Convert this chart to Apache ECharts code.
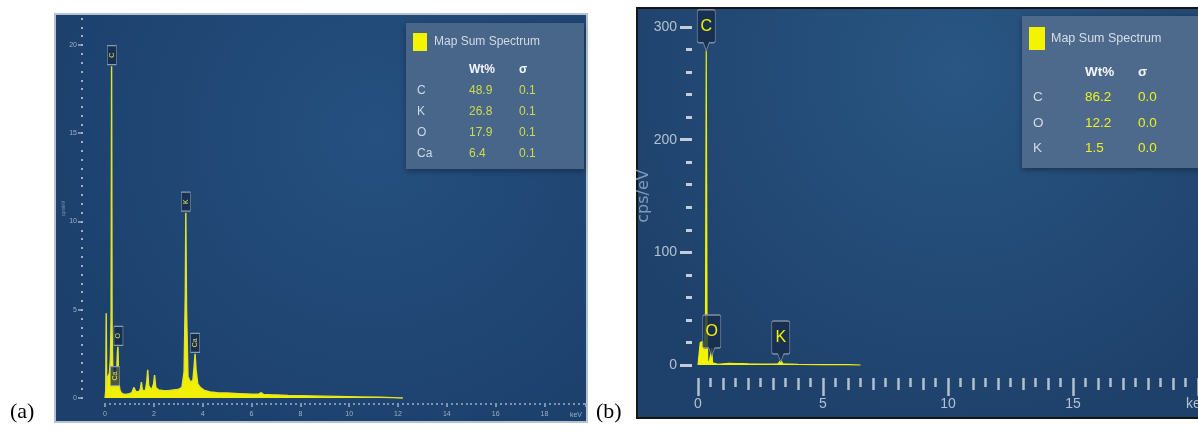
<!DOCTYPE html>
<html>
<head>
<meta charset="utf-8">
<script src="https://cdn.jsdelivr.net/npm/echarts@6/dist/echarts.min.js"></script>
<style>
  html, body { margin: 0; padding: 0; background: #fff; }
  #chart { width: 1198px; height: 433px; }
</style>
</head>
<body>
<div id="chart"></div>
<script>
// ---- data (keV, cps/eV) ----
// panel (a)
var spectrumA = [
  [0, 0], [0.03, 0.4], [0.05, 4.8], [0.07, 0.6], [0.12, 1.2], [0.18, 1.4], [0.22, 2.2],
  [0.25, 4.5], [0.27, 18.8], [0.29, 4.0], [0.32, 1.6], [0.36, 1.4], [0.4, 1.0], [0.43, 0.9],
  [0.47, 1.2], [0.51, 2.6], [0.53, 2.9], [0.56, 0.9], [0.62, 0.4], [0.7, 0.25], [0.85, 0.2],
  [1.0, 0.25], [1.1, 0.3], [1.18, 0.6], [1.22, 0.7], [1.27, 0.35], [1.38, 0.35], [1.45, 0.5],
  [1.49, 0.9], [1.53, 0.45], [1.65, 0.4], [1.71, 0.9], [1.75, 1.6], [1.79, 0.7], [1.9, 0.45],
  [1.99, 0.8], [2.03, 1.3], [2.08, 0.6], [2.2, 0.45], [2.4, 0.42], [2.6, 0.42], [2.8, 0.45],
  [3.0, 0.48], [3.15, 0.6], [3.24, 1.5], [3.29, 6.0], [3.31, 10.5], [3.34, 5.0], [3.4, 1.2],
  [3.5, 0.9], [3.6, 1.0], [3.65, 1.8], [3.69, 2.5], [3.73, 1.6], [3.8, 0.8], [3.9, 0.6],
  [4.05, 0.45], [4.3, 0.35], [4.6, 0.3], [5.0, 0.28], [5.5, 0.25], [6.0, 0.22], [6.3, 0.22],
  [6.4, 0.3], [6.5, 0.2], [6.8, 0.18], [7.5, 0.15], [8.5, 0.12], [9.5, 0.09], [10.5, 0.06],
  [11.3, 0.04], [11.8, 0.02], [12.2, 0]
];
var peakNamesA = ['C', 'O', 'Ca', 'K', 'Ca'];
var peakKeVA = [0.28, 0.55, 0.41, 3.31, 3.69];
var peakTopA = [18.8, 2.9, 0.62, 10.5, 2.5];
var elemA = ['C', 'K', 'O', 'Ca'];
var wtA = ['48.9', '26.8', '17.9', '6.4'];
var sigmaA = ['0.1', '0.1', '0.1', '0.1'];

// panel (b)
var spectrumB = [
  [0, 0], [0.06, 1], [0.09, 20], [0.2, 21], [0.23, 6], [0.3, 40], [0.33, 279], [0.36, 40],
  [0.39, 4], [0.44, 1.5], [0.5, 1.5], [0.53, 12], [0.55, 15], [0.58, 2], [0.65, 0.8],
  [0.8, 0.6], [1.0, 1.0], [1.25, 1.4], [1.5, 1.2], [1.75, 1.3], [2.0, 1.0], [2.5, 0.9],
  [3.0, 0.8], [3.2, 1.0], [3.31, 4.0], [3.4, 1.0], [3.7, 0.8], [4.0, 0.6], [5.0, 0.4],
  [6.0, 0.25], [6.5, 0]
];
var peakNamesB = ['C', 'O', 'K'];
var peakKeVB = [0.33, 0.55, 3.31];
var peakTipB = [279, 8, 2.7];
var elemB = ['C', 'O', 'K'];
var wtB = ['86.2', '12.2', '1.5'];
var sigmaB = ['0.0', '0.0', '0.0'];

var SANS = "'Liberation Sans', Arial, sans-serif";
var YELLOW = '#f4f400';

var chart = echarts.init(document.getElementById('chart'));

// little table under the legend title
function table(y0, colX, rowH, size, elems, wts, sigmas, valColor, nameColor) {
  var out = [
    { type: 'text', z: 10, x: colX[1], y: y0, style: { text: 'Wt%', fill: '#f2f5f8', font: 'bold ' + size + 'px ' + SANS, verticalAlign: 'middle' } },
    { type: 'text', z: 10, x: colX[2], y: y0, style: { text: 'σ', fill: '#f2f5f8', font: 'bold ' + size + 'px ' + SANS, verticalAlign: 'middle' } }
  ];
  for (var i = 0; i < elems.length; i++) {
    var y = y0 + rowH * (i + 1);
    out.push({ type: 'text', z: 10, x: colX[0], y: y, style: { text: elems[i], fill: nameColor, font: size + 'px ' + SANS, verticalAlign: 'middle' } });
    out.push({ type: 'text', z: 10, x: colX[1], y: y, style: { text: wts[i], fill: valColor, font: size + 'px ' + SANS, verticalAlign: 'middle' } });
    out.push({ type: 'text', z: 10, x: colX[2], y: y, style: { text: sigmas[i], fill: valColor, font: size + 'px ' + SANS, verticalAlign: 'middle' } });
  }
  return out;
}

var graphic = [
  // panel backgrounds
  {
    type: 'rect', z: -20, shape: { x: 55, y: 14, width: 532, height: 408 },
    style: {
      fill: new echarts.graphic.RadialGradient(0.6, 0.3, 0.9, [
        { offset: 0, color: '#25507f' }, { offset: 1, color: '#1c3f6b' }
      ]),
      stroke: '#b4c2d2', lineWidth: 2
    }
  },
  {
    type: 'rect', z: -20, shape: { x: 637, y: 8, width: 580, height: 410 },
    style: {
      fill: new echarts.graphic.RadialGradient(0.55, 0.15, 0.9, [
        { offset: 0, color: '#295683' }, { offset: 1, color: '#1e416b' }
      ]),
      stroke: '#151515', lineWidth: 2
    }
  },
  // legend boxes
  {
    type: 'rect', z: -5, shape: { x: 406, y: 23, width: 178, height: 146 },
    style: { fill: '#48658a', shadowBlur: 6, shadowColor: 'rgba(0,0,0,0.35)', shadowOffsetY: 2 }
  },
  {
    type: 'rect', z: -5, shape: { x: 1022, y: 16, width: 190, height: 152 },
    style: { fill: '#4d6a8d', shadowBlur: 6, shadowColor: 'rgba(0,0,0,0.35)', shadowOffsetY: 2 }
  },
  // panel tags
  { type: 'text', z: 10, x: 10, y: 412, style: { text: '(a)', fill: '#000', font: '22px "Liberation Serif", serif', verticalAlign: 'middle' } },
  { type: 'text', z: 10, x: 596, y: 412, style: { text: '(b)', fill: '#000', font: '22px "Liberation Serif", serif', verticalAlign: 'middle' } }
].concat(
  table(70, [417, 469, 519], 21, 12, elemA, wtA, sigmaA, '#cfdc4a', '#d0d9e3'),
  table(72, [1033, 1085, 1138], 25.5, 13.5, elemB, wtB, sigmaB, '#eef020', '#d3dbe4')
);

function markA() {
  return peakNamesA.map(function (n, i) {
    return { name: n, coord: [peakKeVA[i], peakTopA[i]] };
  });
}
function markB() {
  return peakNamesB.map(function (n, i) {
    return { name: n, coord: [peakKeVB[i], peakTipB[i]] };
  });
}

var axisGrey = '#9db0c6';
var tickB = '#b4bfcc';
var noLine = { show: false, onZero: false };

var option = {
  animation: false,
  backgroundColor: '#ffffff',
  graphic: graphic,
  legend: [
    {
      left: 413, top: 33, padding: 0, icon: 'rect', itemWidth: 14, itemHeight: 18, selectedMode: false,
      data: ['Map Sum Spectrum'],
      textStyle: { color: '#d2dbe5', fontSize: 12, fontFamily: SANS, padding: [0, 0, 0, 2] }
    },
    {
      left: 1029, top: 27, padding: 0, icon: 'rect', itemWidth: 16, itemHeight: 23, selectedMode: false,
      data: ['Map Sum Spectrum'],
      textStyle: { color: '#d6dee7', fontSize: 12.5, fontFamily: SANS, padding: [0, 0, 0, 1] }
    }
  ],
  grid: [
    { left: 105, top: 18.5, width: 481, height: 379.5, outerBoundsMode: 'none' },
    { left: 698, top: 27, width: 500, height: 338, outerBoundsMode: 'none' }
  ],
  xAxis: [
    // (a) data axis: fine dotted ticks
    {
      gridIndex: 0, type: 'value', position: 'bottom', min: 0, max: 19.7, interval: 0.2, offset: 5,
      axisLine: noLine, splitLine: { show: false },
      axisTick: { length: 2, lineStyle: { color: axisGrey, width: 1.5 } },
      axisLabel: { show: false }
    },
    // (a) labelled axis
    {
      gridIndex: 0, type: 'value', position: 'bottom', min: 0, max: 19.7, interval: 2, offset: 5,
      axisLine: noLine, splitLine: { show: false },
      axisTick: { length: 4, lineStyle: { color: axisGrey, width: 1.5 } },
      axisLabel: {
        color: axisGrey, fontSize: 7, margin: 8, fontFamily: SANS,
        formatter: function (v) { return v % 2 === 0 ? String(v) : ''; }
      },
      name: 'keV', nameLocation: 'end', nameGap: -10,
      nameTextStyle: { color: axisGrey, fontSize: 7, fontFamily: SANS, align: 'center', verticalAlign: 'top', padding: [9, 0, 0, 0] }
    },
    // (b) half keV ticks
    {
      gridIndex: 1, type: 'value', position: 'bottom', min: 0, max: 20, interval: 0.5, offset: 13,
      axisLine: noLine, splitLine: { show: false },
      axisTick: { length: 9, lineStyle: { color: tickB, width: 2.5 } },
      axisLabel: { show: false }
    },
    // (b) whole keV ticks
    {
      gridIndex: 1, type: 'value', position: 'bottom', min: 0, max: 20, interval: 1, offset: 13,
      axisLine: noLine, splitLine: { show: false },
      axisTick: { length: 12, lineStyle: { color: tickB, width: 2.5 } },
      axisLabel: { show: false }
    },
    // (b) labelled ticks
    {
      gridIndex: 1, type: 'value', position: 'bottom', min: 0, max: 20, interval: 5, offset: 13,
      axisLine: noLine, splitLine: { show: false },
      axisTick: { length: 18, lineStyle: { color: tickB, width: 2.5 } },
      axisLabel: {
        color: '#b3c0cf', fontSize: 14, margin: 19, fontFamily: SANS,
        formatter: function (v) { return v === 20 ? 'keV' : String(v); }
      }
    }
  ],
  yAxis: [
    // (a) dotted ticks, carries the series
    {
      gridIndex: 0, type: 'value', position: 'left', min: 0, max: 21.5, interval: 0.5, offset: 22,
      axisLine: noLine, splitLine: { show: false },
      axisTick: { length: 2, lineStyle: { color: axisGrey, width: 2 } },
      axisLabel: { show: false },
      name: 'cps/eV', nameLocation: 'middle', nameGap: 17, nameMoveOverlap: false,
      nameTextStyle: { color: '#7f96b3', fontSize: 5 }
    },
    // (a) labelled ticks
    {
      gridIndex: 0, type: 'value', position: 'left', min: 0, max: 21.5, offset: 22,
      axisLine: noLine, splitLine: { show: false },
      axisTick: { length: 5, customValues: [0, 5, 10, 15, 20], lineStyle: { color: axisGrey, width: 1.5 } },
      axisLabel: { customValues: [0, 5, 10, 15, 20], color: axisGrey, fontSize: 7, margin: 6, fontFamily: SANS }
    },
    // (b)
    {
      gridIndex: 1, type: 'value', position: 'left', min: 0, max: 300, interval: 100, offset: 6,
      axisLine: noLine, splitLine: { show: false },
      axisTick: { length: 12, lineStyle: { color: '#c3ccd7', width: 3 } },
      minorTick: { show: true, splitNumber: 5, length: 6, lineStyle: { color: '#c3ccd7', width: 3 } },
      axisLabel: { color: '#b3c0cf', fontSize: 14, margin: 15, fontFamily: SANS },
      name: 'cps/eV', nameLocation: 'middle', nameGap: 40, nameMoveOverlap: false,
      nameTextStyle: { color: '#7f99b8', fontSize: 16, fontFamily: 'DejaVu Sans' }
    }
  ],
  series: [
    {
      name: 'Map Sum Spectrum', type: 'line', xAxisIndex: 0, yAxisIndex: 0,
      data: spectrumA, showSymbol: false, clip: false,
      itemStyle: { color: YELLOW },
      lineStyle: { color: '#e4e426', width: 1.4 },
      areaStyle: { color: '#f0f000', opacity: 1 },
      markPoint: {
        symbol: 'rect', symbolSize: [9, 19], symbolOffset: [0, -11],
        itemStyle: { color: 'rgba(22,42,72,0.75)', borderColor: '#8b9cb0', borderWidth: 0.8 },
        label: { show: true, formatter: '{b}', rotate: 90, color: '#dfe35a', fontSize: 7, fontFamily: SANS },
        data: markA()
      }
    },
    {
      name: 'Map Sum Spectrum', type: 'line', xAxisIndex: 2, yAxisIndex: 2,
      data: spectrumB, showSymbol: false, clip: false,
      itemStyle: { color: YELLOW },
      lineStyle: { color: '#f2f200', width: 1.2 },
      areaStyle: { color: '#f4f400', opacity: 1 },
      markPoint: {
        symbol: 'path://M0,2 Q0,0 2,0 L16,0 Q18,0 18,2 L18,31 Q18,33 16,33 L12,33 L9,41 L6,33 L2,33 Q0,33 0,31 Z',
        symbolSize: [18, 41], symbolOffset: [0, '-50%'],
        itemStyle: { color: 'rgba(22,44,74,0.8)', borderColor: '#7d8fa4', borderWidth: 1 },
        label: { show: true, position: 'inside', offset: [0, -4], formatter: '{b}', color: '#f4f400', fontSize: 16, fontFamily: SANS },
        data: markB()
      }
    }
  ]
};

chart.setOption(option);
</script>
</body>
</html>
